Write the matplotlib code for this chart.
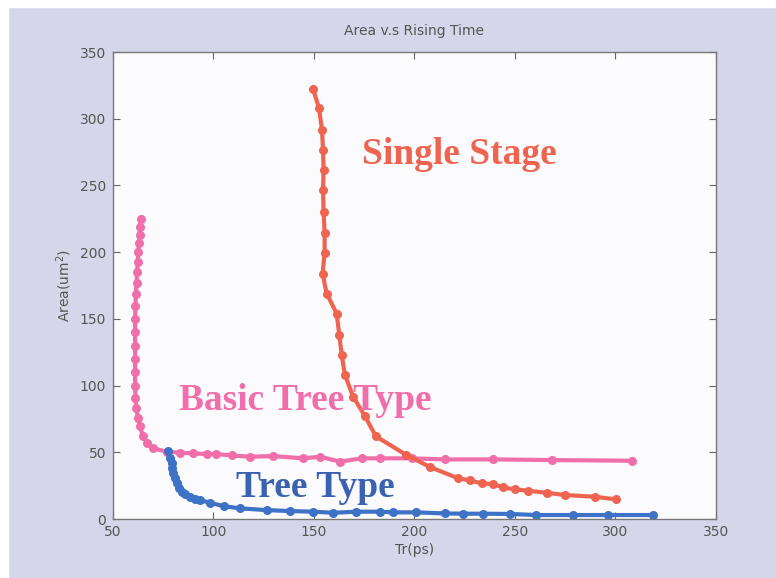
import numpy as np
import matplotlib
matplotlib.use("Agg")
import matplotlib.pyplot as plt
from matplotlib.patches import Rectangle

# --- data ---
single_x = [149.6, 152.5, 154.0, 154.5, 154.8, 154.5, 154.8, 155.3, 155.3, 154.3, 156.3,
            161.3, 162.6, 163.8, 165.4, 169.5, 175.4, 180.8, 196.0, 207.7, 221.8, 227.6,
            233.4, 239.2, 244.2, 250.0, 256.6, 265.7, 274.9, 289.8, 300.5]
single_y = [322.0, 308.0, 291.6, 276.6, 261.6, 246.6, 230.0, 214.0, 199.6, 184.0, 169.0,
            154.0, 138.0, 123.0, 108.0, 91.7, 77.0, 62.0, 48.0, 39.0, 30.5, 29.0,
            26.7, 26.2, 23.7, 22.2, 21.2, 19.7, 18.0, 16.7, 14.7]

basic_x = [63.7, 63.5, 63.2, 62.9, 62.6, 62.3, 62.0, 61.7, 61.4, 61.2, 61.0, 61.0, 61.0,
           61.0, 61.0, 61.0, 61.2, 61.6, 62.4, 63.4, 65.0, 67.0, 70.0, 76.7, 83.3, 90.0,
           96.6, 101.5, 109.0, 118.2, 129.7, 144.6, 153.0, 163.0, 173.7, 182.8, 198.6,
           215.0, 239.0, 268.2, 308.0]
basic_y = [225.0, 219.0, 213.0, 207.0, 200.0, 193.0, 185.0, 177.0, 169.0, 160.0, 150.0,
           140.0, 130.0, 120.0, 110.0, 100.0, 91.0, 83.0, 76.0, 69.4, 62.0, 57.0, 53.0,
           50.5, 49.7, 49.2, 48.7, 48.7, 47.7, 46.7, 47.2, 45.5, 46.7, 43.0, 45.5, 45.5,
           45.5, 44.7, 44.7, 44.2, 43.7]

tree_x = [77.5, 78.2, 79.2, 79.6, 80.0, 80.8, 81.7, 82.8, 84.2, 86.0, 88.3, 90.8, 93.3,
          98.3, 105.0, 113.2, 126.5, 138.0, 149.7, 159.6, 171.0, 182.8, 189.4, 201.0,
          215.2, 224.3, 234.2, 247.5, 260.7, 279.0, 296.4, 318.8]
tree_y = [51.0, 46.0, 41.7, 38.0, 34.2, 30.5, 26.7, 23.5, 20.5, 18.5, 16.7, 15.3, 14.2,
          12.2, 9.7, 8.0, 6.7, 6.0, 5.5, 4.7, 5.5, 5.5, 5.0, 5.0, 4.2, 4.0, 4.0, 3.8,
          3.0, 3.0, 3.0, 3.0]

RED = "#ee6450"; PINK = "#f06eaa"; BLUE = "#3d72c6"
BG = "#d6d6ea"; GRAYTXT = "#555555"

fig = plt.figure(figsize=(7.76, 5.78), dpi=100)
fig.patch.set_facecolor(BG)
# white scan margins on top and left
fig.add_artist(Rectangle((0, 0.988), 1, 0.012, transform=fig.transFigure,
                         color="white", zorder=0))
fig.add_artist(Rectangle((0, 0), 0.010, 1, transform=fig.transFigure,
                         color="white", zorder=0))

ax = fig.add_axes([0.1456, 0.102, 0.777, 0.808])
ax.set_facecolor("#fbfbfd")

kw = dict(lw=3.0, marker="o", ms=6.5, mec="none")
ax.plot(basic_x, basic_y, color=PINK, **kw)
ax.plot(tree_x, tree_y, color=BLUE, **kw)
ax.plot(single_x, single_y, color=RED, **kw)

ax.set_xlim(50, 350)
ax.set_ylim(0, 350)
ax.set_xticks(range(50, 351, 50))
ax.set_yticks(range(0, 351, 50))
ax.tick_params(direction="in", top=True, right=True, length=5, color="#666666",
               labelsize=10, labelcolor=GRAYTXT)
ax.tick_params(axis="y", pad=5)
ax.tick_params(axis="x", pad=4)
for s in ax.spines.values():
    s.set_color("#777777")
    s.set_linewidth(1.0)

ax.set_title("Area v.s Rising Time", fontsize=10, color=GRAYTXT, pad=12)
ax.set_xlabel("Tr(ps)", fontsize=10, color=GRAYTXT, labelpad=3)
ax.set_ylabel("Area(um$^2$)", fontsize=10, color=GRAYTXT, labelpad=4)

serif = dict(family="Liberation Serif", fontweight="bold", fontsize=27, va="center", ha="left")
ax.text(174, 273, "Single Stage", color=RED, **serif)
ax.text(83, 89, "Basic Tree Type", color=PINK, **serif)
ax.text(111, 24, "Tree Type", color="#3a62b0", **serif)

fig.savefig("out.png", facecolor=BG)
